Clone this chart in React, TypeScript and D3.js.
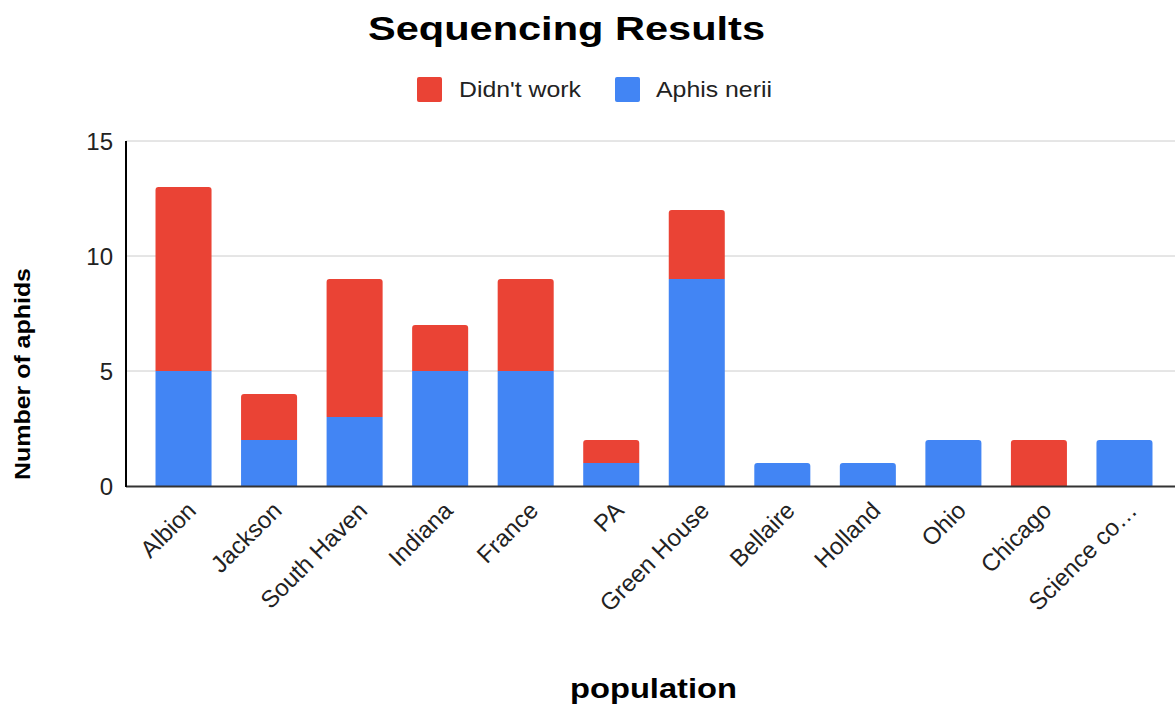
import React from "react";
import * as d3 from "d3";

const categories = ["Albion", "Jackson", "South Haven", "Indiana", "France", "PA", "Green House", "Bellaire", "Holland", "Ohio", "Chicago", "Science co…"];
const aphisNerii = [5, 2, 3, 5, 5, 1, 9, 1, 1, 2, 0, 2];
const didntWork = [8, 2, 6, 2, 4, 1, 3, 0, 0, 0, 2, 0];
const yTicks = [0, 5, 10, 15];

const W = 1175;
const H = 704;
const RED = "#ea4335";
const BLUE = "#4285f4";
const FONT = "'Liberation Sans', Arial, sans-serif";

function topRounded(x: number, y: number, w: number, h: number, r: number) {
  const rr = Math.min(r, h, w / 2);
  return `M${x},${y + h}V${y + rr}Q${x},${y} ${x + rr},${y}H${x + w - rr}Q${x + w},${y} ${x + w},${y + rr}V${y + h}Z`;
}

export default function App() {
  const x = d3.scaleBand<string>().domain(categories).range([126, 1182]).paddingInner(0.345).paddingOuter(0.345);
  const y = d3.scaleLinear().domain([0, 15]).range([486, 141]);
  const bw = x.bandwidth();

  return (
    <svg width={W} height={H} style={{ display: "block", position: "absolute", left: 0, top: 0 }} fontFamily={FONT}>
      <rect width={W} height={H} fill="#fff" />
      <text x={368} y={40} fontSize={33} fontWeight="bold" fill="#000" textLength={397} lengthAdjust="spacingAndGlyphs">Sequencing Results</text>
      {/* legend */}
      <rect x={417} y={77} width={25} height={25} rx={2} fill={RED} />
      <text x={459} y={97} fontSize={22} fill="#222" textLength={122} lengthAdjust="spacingAndGlyphs">Didn't work</text>
      <rect x={615} y={77} width={25} height={25} rx={2} fill={BLUE} />
      <text x={656} y={97} fontSize={22} fill="#222" textLength={116} lengthAdjust="spacingAndGlyphs">Aphis nerii</text>

      {/* gridlines */}
      {yTicks.filter((t) => t > 0).map((t) => (
        <line key={t} x1={126} x2={W} y1={y(t)} y2={y(t)} stroke="#cccccc" strokeWidth={1} />
      ))}
      {yTicks.map((t) => (
        <text key={t} x={113} y={y(t) + 9} textAnchor="end" fontSize={24} fill="#222">{t}</text>
      ))}

      {/* bars */}
      {categories.map((c, i) => {
        const bx = x(c)!;
        const b = aphisNerii[i];
        const r = didntWork[i];
        const total = b + r;
        const els: React.ReactNode[] = [];
        if (b > 0) {
          const yt = y(b);
          const h = y(0) - yt;
          els.push(r > 0
            ? <rect key="b" x={bx} y={yt} width={bw} height={h} fill={BLUE} />
            : <path key="b" d={topRounded(bx, yt, bw, h, 3)} fill={BLUE} />);
        }
        if (r > 0) {
          const yt = y(total);
          const h = y(b) - yt;
          els.push(<path key="r" d={topRounded(bx, yt, bw, h, 3)} fill={RED} />);
        }
        return <g key={c}>{els}</g>;
      })}

      {/* axes */}
      <line x1={126} x2={W} y1={486.5} y2={486.5} stroke="#333" strokeWidth={2} />
      <line x1={126} x2={126} y1={141} y2={487} stroke="#000" strokeWidth={2} />

      {categories.map((c) => {
        const cx = x(c)! + bw / 2;
        return (
          <text key={c} transform={`translate(${cx + 14},${512}) rotate(-45)`} textAnchor="end" fontSize={24} fill="#222">{c}</text>
        );
      })}

      <text x={570} y={698} fontSize={28} fontWeight="bold" fill="#000" textLength={167} lengthAdjust="spacingAndGlyphs">population</text>
      <text transform={`translate(30,480) rotate(-90)`} fontSize={22} fontWeight="bold" fill="#000" textLength={212} lengthAdjust="spacingAndGlyphs">Number of aphids</text>
    </svg>
  );
}
